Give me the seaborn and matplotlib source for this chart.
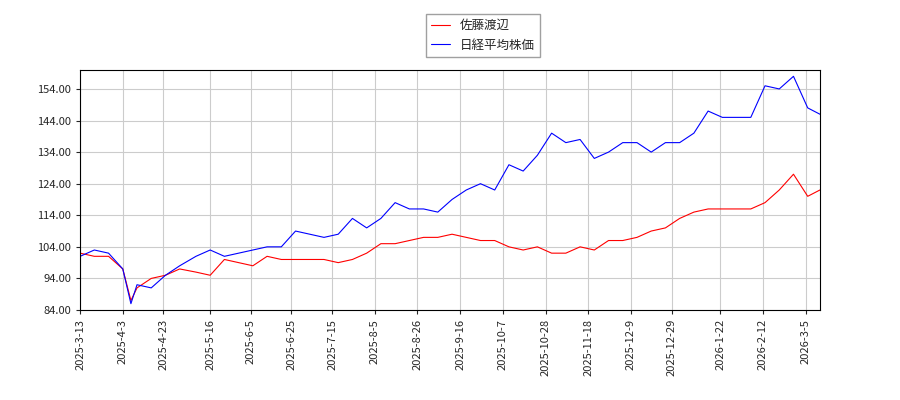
import pandas as pd
import matplotlib
matplotlib.use("Agg")
import matplotlib.pyplot as plt
import seaborn as sns

dates = ["2025-03-13", "2025-03-20", "2025-03-27", "2025-04-03", "2025-04-07", "2025-04-10",
         "2025-04-17", "2025-04-24", "2025-05-01", "2025-05-09", "2025-05-16", "2025-05-23",
         "2025-05-30", "2025-06-06", "2025-06-13", "2025-06-20", "2025-06-27", "2025-07-04",
         "2025-07-11", "2025-07-18", "2025-07-25", "2025-08-01", "2025-08-08", "2025-08-15",
         "2025-08-22", "2025-08-29", "2025-09-05", "2025-09-12", "2025-09-19", "2025-09-26",
         "2025-10-03", "2025-10-10", "2025-10-17", "2025-10-24", "2025-10-31", "2025-11-07",
         "2025-11-14", "2025-11-21", "2025-11-28", "2025-12-05", "2025-12-12", "2025-12-19",
         "2025-12-26", "2026-01-02", "2026-01-09", "2026-01-16", "2026-01-23", "2026-01-30",
         "2026-02-06", "2026-02-13", "2026-02-20", "2026-02-27", "2026-03-06", "2026-03-12"]
nikkei = [101, 103, 102, 97, 86, 92, 91, 95, 98, 101, 103, 101, 102, 103, 104, 104, 109, 108,
          107, 108, 113, 110, 113, 118, 116, 116, 115, 119, 122, 124, 122, 130, 128, 133, 140,
          137, 138, 132, 134, 137, 137, 134, 137, 137, 140, 147, 145, 145, 145, 155, 154, 158,
          148, 146]
sato = [102, 101, 101, 97, 87, 91, 94, 95, 97, 96, 95, 100, 99, 98, 101, 100, 100, 100, 100,
        99, 100, 102, 105, 105, 106, 107, 107, 108, 107, 106, 106, 104, 103, 104, 102, 102, 104,
        103, 106, 106, 107, 109, 110, 113, 115, 116, 116, 116, 116, 118, 122, 127, 120, 122]
tick_labels = ["2025-3-13", "2025-4-3", "2025-4-23", "2025-5-16", "2025-6-5", "2025-6-25",
               "2025-7-15", "2025-8-5", "2025-8-26", "2025-9-16", "2025-10-7", "2025-10-28",
               "2025-11-18", "2025-12-9", "2025-12-29", "2026-1-22", "2026-2-12", "2026-3-5"]

sns.set_style("white")
plt.rcParams["font.family"] = ["Noto Sans CJK JP", "DejaVu Sans"]

df = pd.DataFrame({"date": pd.to_datetime(dates), "sato": sato, "nikkei": nikkei})

fig = plt.figure(figsize=(9, 4), dpi=100)
ax = fig.add_axes([0.089, 0.225, 0.822, 0.60])
sns.lineplot(data=df, x="date", y="sato", color="red", lw=0.8, label="佐藤渡辺", ax=ax)
sns.lineplot(data=df, x="date", y="nikkei", color="blue", lw=0.8, label="日経平均株価", ax=ax)

ticks = pd.to_datetime(tick_labels)
ax.set_xticks(ticks)
ax.set_xticklabels(tick_labels, rotation=90, fontsize=8)
ax.set_xlim(pd.Timestamp("2025-03-13"), pd.Timestamp("2026-03-12"))
ax.set_ylim(84, 160)
ax.set_yticks(range(84, 160, 10))
ax.set_yticklabels([f"{v:.2f}" for v in range(84, 160, 10)], fontsize=8)
ax.grid(True, color="#cccccc", lw=0.8)
ax.set_xlabel("")
ax.set_ylabel("")
for s in ax.spines.values():
    s.set_color("black")
ax.tick_params(length=3, direction="out", left=True, bottom=True)
ax.legend(loc="lower center", bbox_to_anchor=(0.545, 1.03), fontsize=9, frameon=True,
          edgecolor="#888888", fancybox=False, handlelength=1.5)

fig.savefig("out.png")
